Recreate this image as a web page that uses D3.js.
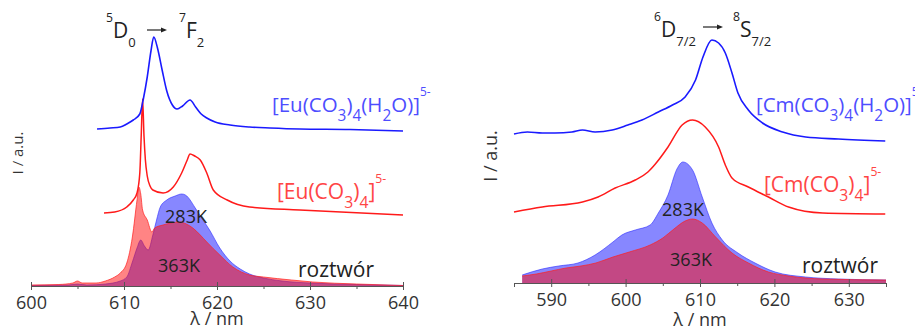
<!DOCTYPE html>
<html>
<head>
<meta charset="utf-8">
<script src="https://cdn.jsdelivr.net/npm/d3@7/dist/d3.min.js"></script>
<style>
  html, body { margin: 0; padding: 0; background: #fff; }
  svg { display: block; font-family: "Open Sans", "DejaVu Sans", sans-serif; }
</style>
</head>
<body>
<svg id="chart" width="915" height="329"></svg>
<script>
// ---- Eu(III) panel data: [wavelength nm, intensity a.u.] ----
const euAquaLine = [
  [607.1, 157], [608.5, 158], [609.6, 159], [610.3, 162], [611.0, 166], [611.7, 172],
  [612.1, 188], [612.5, 209], [612.9, 235], [613.2, 249], [613.6, 238], [614.1, 216],
  [614.6, 195], [615.2, 181], [615.7, 177], [616.3, 180], [617.1, 186], [617.7, 179],
  [618.3, 172], [618.9, 168], [619.8, 164], [621.4, 161], [623.5, 159], [625.7, 158],
  [628.9, 157], [634.3, 156.5], [640, 155]
];
const euCarbLine = [
  [607.85, 73], [609, 74], [610.3, 79], [611.0, 86], [611.4, 93], [611.7, 113],
  [611.85, 150], [612.0, 187], [612.15, 150], [612.3, 126], [612.5, 110], [612.8, 100],
  [613.1, 96], [614.2, 93], [615.3, 99], [616.2, 113], [616.8, 126], [617.1, 132],
  [617.6, 130], [618.2, 126], [618.9, 113], [619.6, 96], [621.1, 86], [623.5, 79],
  [628.9, 76], [640, 71]
];
const eu283Area = [
  [600, 0.5], [604, 1], [605, 2], [606, 1], [608, 2], [609.6, 5], [610.3, 9], [610.9, 24],
  [611.4, 38], [611.8, 46], [612.2, 40], [612.6, 36], [613.1, 51], [613.5, 66], [613.9, 79],
  [614.6, 86], [615.5, 90], [616.2, 92], [616.6, 91], [617.8, 76], [618.5, 66], [619.2, 56],
  [620.3, 38], [621.4, 25], [622.5, 17], [623.5, 12], [625, 8], [627, 5], [630, 3],
  [635, 1.5], [640, 0.5]
];
const eu363Area = [
  [600, 1], [603, 1.5], [604.5, 3], [605, 5], [605.5, 3], [607, 3], [608, 5], [609, 9],
  [609.6, 13], [610.3, 23], [610.9, 49], [611.4, 86], [611.6, 99], [611.8, 92], [612.0, 76],
  [612.5, 66], [613.0, 54], [613.3, 58], [614.2, 61], [615, 63], [616.0, 64], [616.7, 62],
  [617.4, 58], [618.2, 51], [618.9, 44], [620.3, 31], [621.7, 19], [623.5, 11], [625, 9],
  [628, 6], [630.3, 4], [635, 2], [640, 0.5]
];
const euTicks = [600, 610, 620, 630, 640];
const euMinorTicks = [605, 615, 625, 635];

// ---- Cm(III) panel data ----
const cmAquaLine = [
  [585.0, 149], [586.8, 151], [588.8, 150], [590.5, 150], [592.8, 151], [594.2, 153],
  [595.9, 151], [598.2, 153], [600.3, 158], [602.2, 163], [604.4, 171], [606.3, 178],
  [608.0, 186], [609.4, 203], [610.4, 226], [611.6, 243], [612.5, 240], [613.4, 230],
  [614.3, 210], [615.1, 190], [616.5, 173], [618.4, 160], [621.1, 151], [624.2, 146],
  [628.6, 144], [634.9, 142]
];
const cmCarbLine = [
  [585.0, 71], [588.8, 76], [594.2, 81], [596.3, 86], [598.6, 95], [601.3, 103],
  [603.0, 111], [604.0, 119], [605.7, 136], [607.6, 158], [609.0, 163], [610.7, 156],
  [612.5, 136], [613.4, 118], [614.3, 105], [616.5, 96], [619.2, 86], [621.9, 76],
  [626.5, 70], [634.9, 69]
];
const cm283Area = [
  [586.1, 8], [588.8, 14], [591, 17], [593.6, 20], [595.9, 28], [598.3, 41], [599.5, 48],
  [601.3, 53], [603.3, 58], [604.4, 70], [605.7, 88], [606.9, 114], [607.7, 121],
  [609.0, 113], [610.3, 86], [611.6, 60], [613.0, 43], [615.1, 30], [617.4, 20],
  [620.1, 11], [624.2, 6], [628.6, 4], [635, 3]
];
const cm363Area = [
  [586.1, 7], [588, 9], [590, 12], [592, 15], [594, 17], [596, 20], [598.3, 26],
  [600.5, 31], [603.3, 38], [605, 45], [606.5, 54], [608, 62], [609, 64], [610.3, 60],
  [612.1, 46], [614.3, 30], [616.5, 20], [619.2, 11], [621.9, 7], [626.5, 4], [635, 3]
];
const cmTicks = [590, 600, 610, 620, 630];
const cmMinorTicks = [585, 595, 605, 615, 625, 635];

const svg = d3.select("#chart");

// text with sub/superscript pieces: [text, "sub" | "sup" | undefined]
function formula(g, x, y, parts, size, color, subScale = 0.75) {
  const t = g.append("text")
    .attr("x", x)
    .attr("y", y)
    .attr("fill", color)
    .style("font-size", `${size}px`);
  let shift = 0;
  parts.forEach(([s, kind]) => {
    const target = kind === "sub" ? size * 0.45 : kind === "sup" ? -size * 0.78 : 0;
    t.append("tspan")
      .attr("dy", target - shift)
      .style("font-size", `${kind === "sup" ? size * 0.58 : kind === "sub" ? size * subScale : size}px`)
      .text(s);
    shift = target;
  });
  return t;
}

function arrow(g, x1, x2, y) {
  g.append("line")
    .attr("x1", x1).attr("x2", x2 - 5).attr("y1", y).attr("y2", y)
    .attr("stroke", "#222").attr("stroke-width", 1.2);
  g.append("path")
    .attr("d", `M${x2},${y}L${x2 - 6},${y - 2.5}L${x2 - 6},${y + 2.5}Z`)
    .attr("fill", "#222");
}

function drawPanel(p) {
  const g = svg.append("g");
  const x = d3.scaleLinear().domain(p.domain).range(p.xRange);
  const y = d3.scaleLinear().domain([0, 250]).range([p.baseY, p.baseY - 250]);

  const area = d3.area()
    .x((d) => x(d[0]))
    .y0(y(0))
    .y1((d) => y(d[1]))
    .curve(d3.curveMonotoneX);
  const line = d3.line()
    .x((d) => x(d[0]))
    .y((d) => y(d[1]))
    .curve(d3.curveMonotoneX);

  // 283K (blue) then 363K (red) on top
  g.append("path").datum(p.area283)
    .attr("fill", "#0000ff").attr("fill-opacity", 0.47).attr("d", area);
  g.append("path").datum(p.area283)
    .attr("fill", "none").attr("stroke", "#2a2aff").attr("stroke-opacity", 0.6)
    .attr("stroke-width", 1).attr("d", line);
  g.append("path").datum(p.area363)
    .attr("fill", "#ff0a0a").attr("fill-opacity", 0.5).attr("d", area);
  g.append("path").datum(p.area363)
    .attr("fill", "none").attr("stroke", "#ff2020").attr("stroke-opacity", 0.7)
    .attr("stroke-width", 1).attr("d", line);

  g.append("path").datum(p.carbLine)
    .attr("fill", "none").attr("stroke", "#ff1a1a").attr("stroke-width", 1.5).attr("d", line);
  g.append("path").datum(p.aquaLine)
    .attr("fill", "none").attr("stroke", "#1a1aff").attr("stroke-width", 1.6).attr("d", line);

  // x axis: major ticks crossing the line, minor ticks below
  const ax = g.append("g")
    .attr("transform", `translate(0,${p.baseY})`)
    .call(d3.axisBottom(x).tickValues(p.ticks).tickSizeOuter(0).tickSize(4).tickPadding(0));
  ax.select(".domain").attr("stroke", "#555");
  ax.selectAll(".tick line").attr("stroke", "#555").attr("y1", -4).attr("y2", 4);
  ax.selectAll(".tick text")
    .attr("fill", "#333").attr("y", p.tickTextY).attr("dy", 0)
    .style("font-size", "18px").style("font-family", "Open Sans");
  const mx = g.append("g")
    .attr("transform", `translate(0,${p.baseY})`)
    .call(d3.axisBottom(x).tickValues(p.minorTicks).tickSize(3).tickFormat(""));
  mx.select(".domain").remove();
  mx.selectAll(".tick line").attr("stroke", "#555");

  g.append("text")
    .attr("x", (p.xRange[0] + p.xRange[1]) / 2).attr("y", p.xTitleY)
    .attr("text-anchor", "middle").attr("fill", "#333")
    .style("font-size", "18px").text("λ / nm");

  g.append("text")
    .attr("transform", `translate(${p.yTitle[0]},${p.yTitle[1]}) rotate(-90)`)
    .attr("text-anchor", "middle").attr("fill", "#333")
    .style("font-size", `${p.yTitle[2]}px`).text("I / a.u.");

  g.append("text").attr("x", p.label283[0]).attr("y", p.label283[1])
    .attr("text-anchor", "middle").attr("fill", "#222").style("font-size", "18px").text("283K");
  g.append("text").attr("x", p.label363[0]).attr("y", p.label363[1])
    .attr("text-anchor", "middle").attr("fill", "#222").style("font-size", "18px").text("363K");
  g.append("text").attr("x", p.labelSol[0]).attr("y", p.labelSol[1])
    .attr("fill", "#222").style("font-size", "21px").text("roztwór");

  return g;
}

const euPanel = drawPanel({
  domain: [600, 640], xRange: [31, 403], baseY: 286,
  aquaLine: euAquaLine, carbLine: euCarbLine, area283: eu283Area, area363: eu363Area,
  ticks: euTicks, minorTicks: euMinorTicks, tickTextY: 23, xTitleY: 325,
  yTitle: [23, 153, 15], label283: [186, 223], label363: [179, 272], labelSol: [298, 277]
});
formula(euPanel, 106, 38, [["5", "sup"], ["D"], ["0", "sub"]], 21, "#222", 0.62);
arrow(euPanel, 147, 167, 30);
formula(euPanel, 179, 38, [["7", "sup"], ["F"], ["2", "sub"]], 21, "#222", 0.62);
formula(euPanel, 272, 112,
  [["[Eu(CO"], ["3", "sub"], [")"], ["4", "sub"], ["(H"], ["2", "sub"], ["O)]"], ["5-", "sup"]],
  20.5, "#4d4dff");
formula(euPanel, 277, 199,
  [["[Eu(CO"], ["3", "sub"], [")"], ["4", "sub"], ["]"], ["5-", "sup"]],
  21, "#ff4545");

const cmPanel = drawPanel({
  domain: [585, 635], xRange: [514, 886], baseY: 283,
  aquaLine: cmAquaLine, carbLine: cmCarbLine, area283: cm283Area, area363: cm363Area,
  ticks: cmTicks, minorTicks: cmMinorTicks, tickTextY: 23, xTitleY: 326,
  yTitle: [497, 156, 18], label283: [683, 216], label363: [691, 266], labelSol: [802, 273]
});
formula(cmPanel, 654, 37, [["6", "sup"], ["D"], ["7/2", "sub"]], 21, "#222", 0.62);
arrow(cmPanel, 703, 723, 27);
formula(cmPanel, 733, 37, [["8", "sup"], ["S"], ["7/2", "sub"]], 21, "#222", 0.62);
formula(cmPanel, 756, 112,
  [["[Cm(CO"], ["3", "sub"], [")"], ["4", "sub"], ["(H"], ["2", "sub"], ["O)]"], ["5-", "sup"]],
  20.5, "#4d4dff");
formula(cmPanel, 764, 192,
  [["[Cm(CO"], ["3", "sub"], [")"], ["4", "sub"], ["]"], ["5-", "sup"]],
  21, "#ff4545");
</script>
</body>
</html>
